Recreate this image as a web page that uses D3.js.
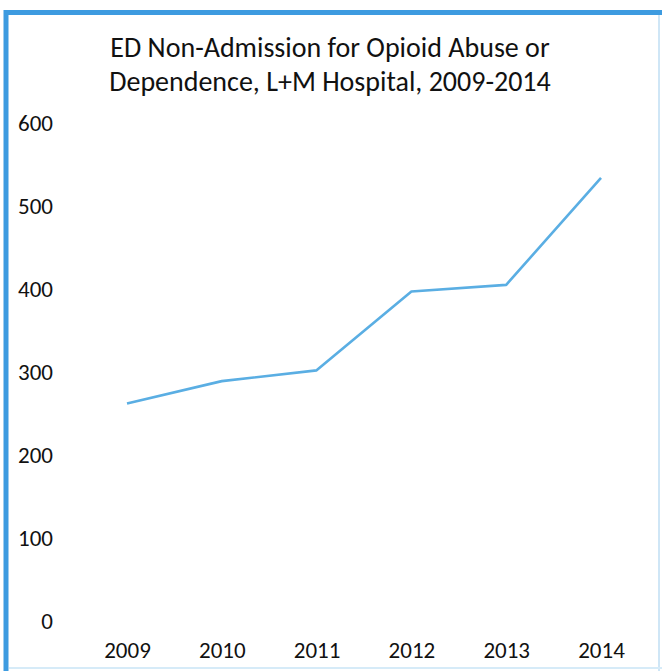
<!DOCTYPE html>
<html>
<head>
<meta charset="utf-8">
<script src="https://cdn.jsdelivr.net/npm/d3@7"></script>
<style>
html,body{margin:0;padding:0;background:#fff;}
svg{display:block;}
</style>
</head>
<body>
<svg id="chart" width="662" height="671"></svg>
<script>
const years = ["2009","2010","2011","2012","2013","2014"];
const visits = [262, 289, 302, 397, 405, 534];
const yTicks = [0, 100, 200, 300, 400, 500, 600];
const titleLines = ["ED Non-Admission for Opioid Abuse or", "Dependence, L+M Hospital, 2009-2014"];

const svg = d3.select("#chart");
const font = "Carlito, 'Open Sans', 'Liberation Sans', sans-serif";

// frame
svg.append("rect").attr("x",0).attr("y",0).attr("width",662).attr("height",671).attr("fill","#fff");
svg.append("line").attr("x1",6).attr("x2",6).attr("y1",10).attr("y2",671).attr("stroke","#3d9be0").attr("stroke-width",5);
svg.append("line").attr("x1",4).attr("x2",662).attr("y1",12.5).attr("y2",12.5).attr("stroke","#3d9be0").attr("stroke-width",5);
svg.append("line").attr("x1",659).attr("x2",659).attr("y1",15).attr("y2",671).attr("stroke","#cfe6f6").attr("stroke-width",2);
svg.append("line").attr("x1",9).attr("x2",662).attr("y1",668).attr("y2",668).attr("stroke","#d6ebf8").attr("stroke-width",2);

const x = d3.scalePoint().domain(years).range([127, 601]);
const y = d3.scaleLinear().domain([0, 600]).range([621, 123]);

// title
svg.append("g").selectAll("text").data(titleLines).join("text")
  .attr("x", 330).attr("y", (d,i) => 57 + i*34)
  .attr("text-anchor","middle")
  .attr("font-family", font).attr("font-size", 28).attr("fill","#111")
  .text(d => d);

// y axis
const yAxis = d3.axisLeft(y).tickValues(yTicks).tickSize(0).tickPadding(0);
const gy = svg.append("g").attr("transform","translate(53,0)").call(yAxis);
gy.select(".domain").remove();
gy.selectAll("text").attr("font-family", font).attr("font-size", 23).attr("fill","#111").attr("dy","0.32em");

// x axis
const xAxis = d3.axisBottom(x).tickSize(0).tickPadding(0);
const gx = svg.append("g").attr("transform","translate(0,642)").call(xAxis);
gx.select(".domain").remove();
gx.selectAll("text").attr("font-family", font).attr("font-size", 23).attr("fill","#111").attr("dy","0.71em");

// line
const line = d3.line().x((d,i) => x(years[i])).y(d => y(d));
svg.append("path").datum(visits)
  .attr("d", line)
  .attr("fill","none")
  .attr("stroke","#5aaee3")
  .attr("stroke-width",2.6)
  .attr("stroke-linejoin","round");
</script>
</body>
</html>
